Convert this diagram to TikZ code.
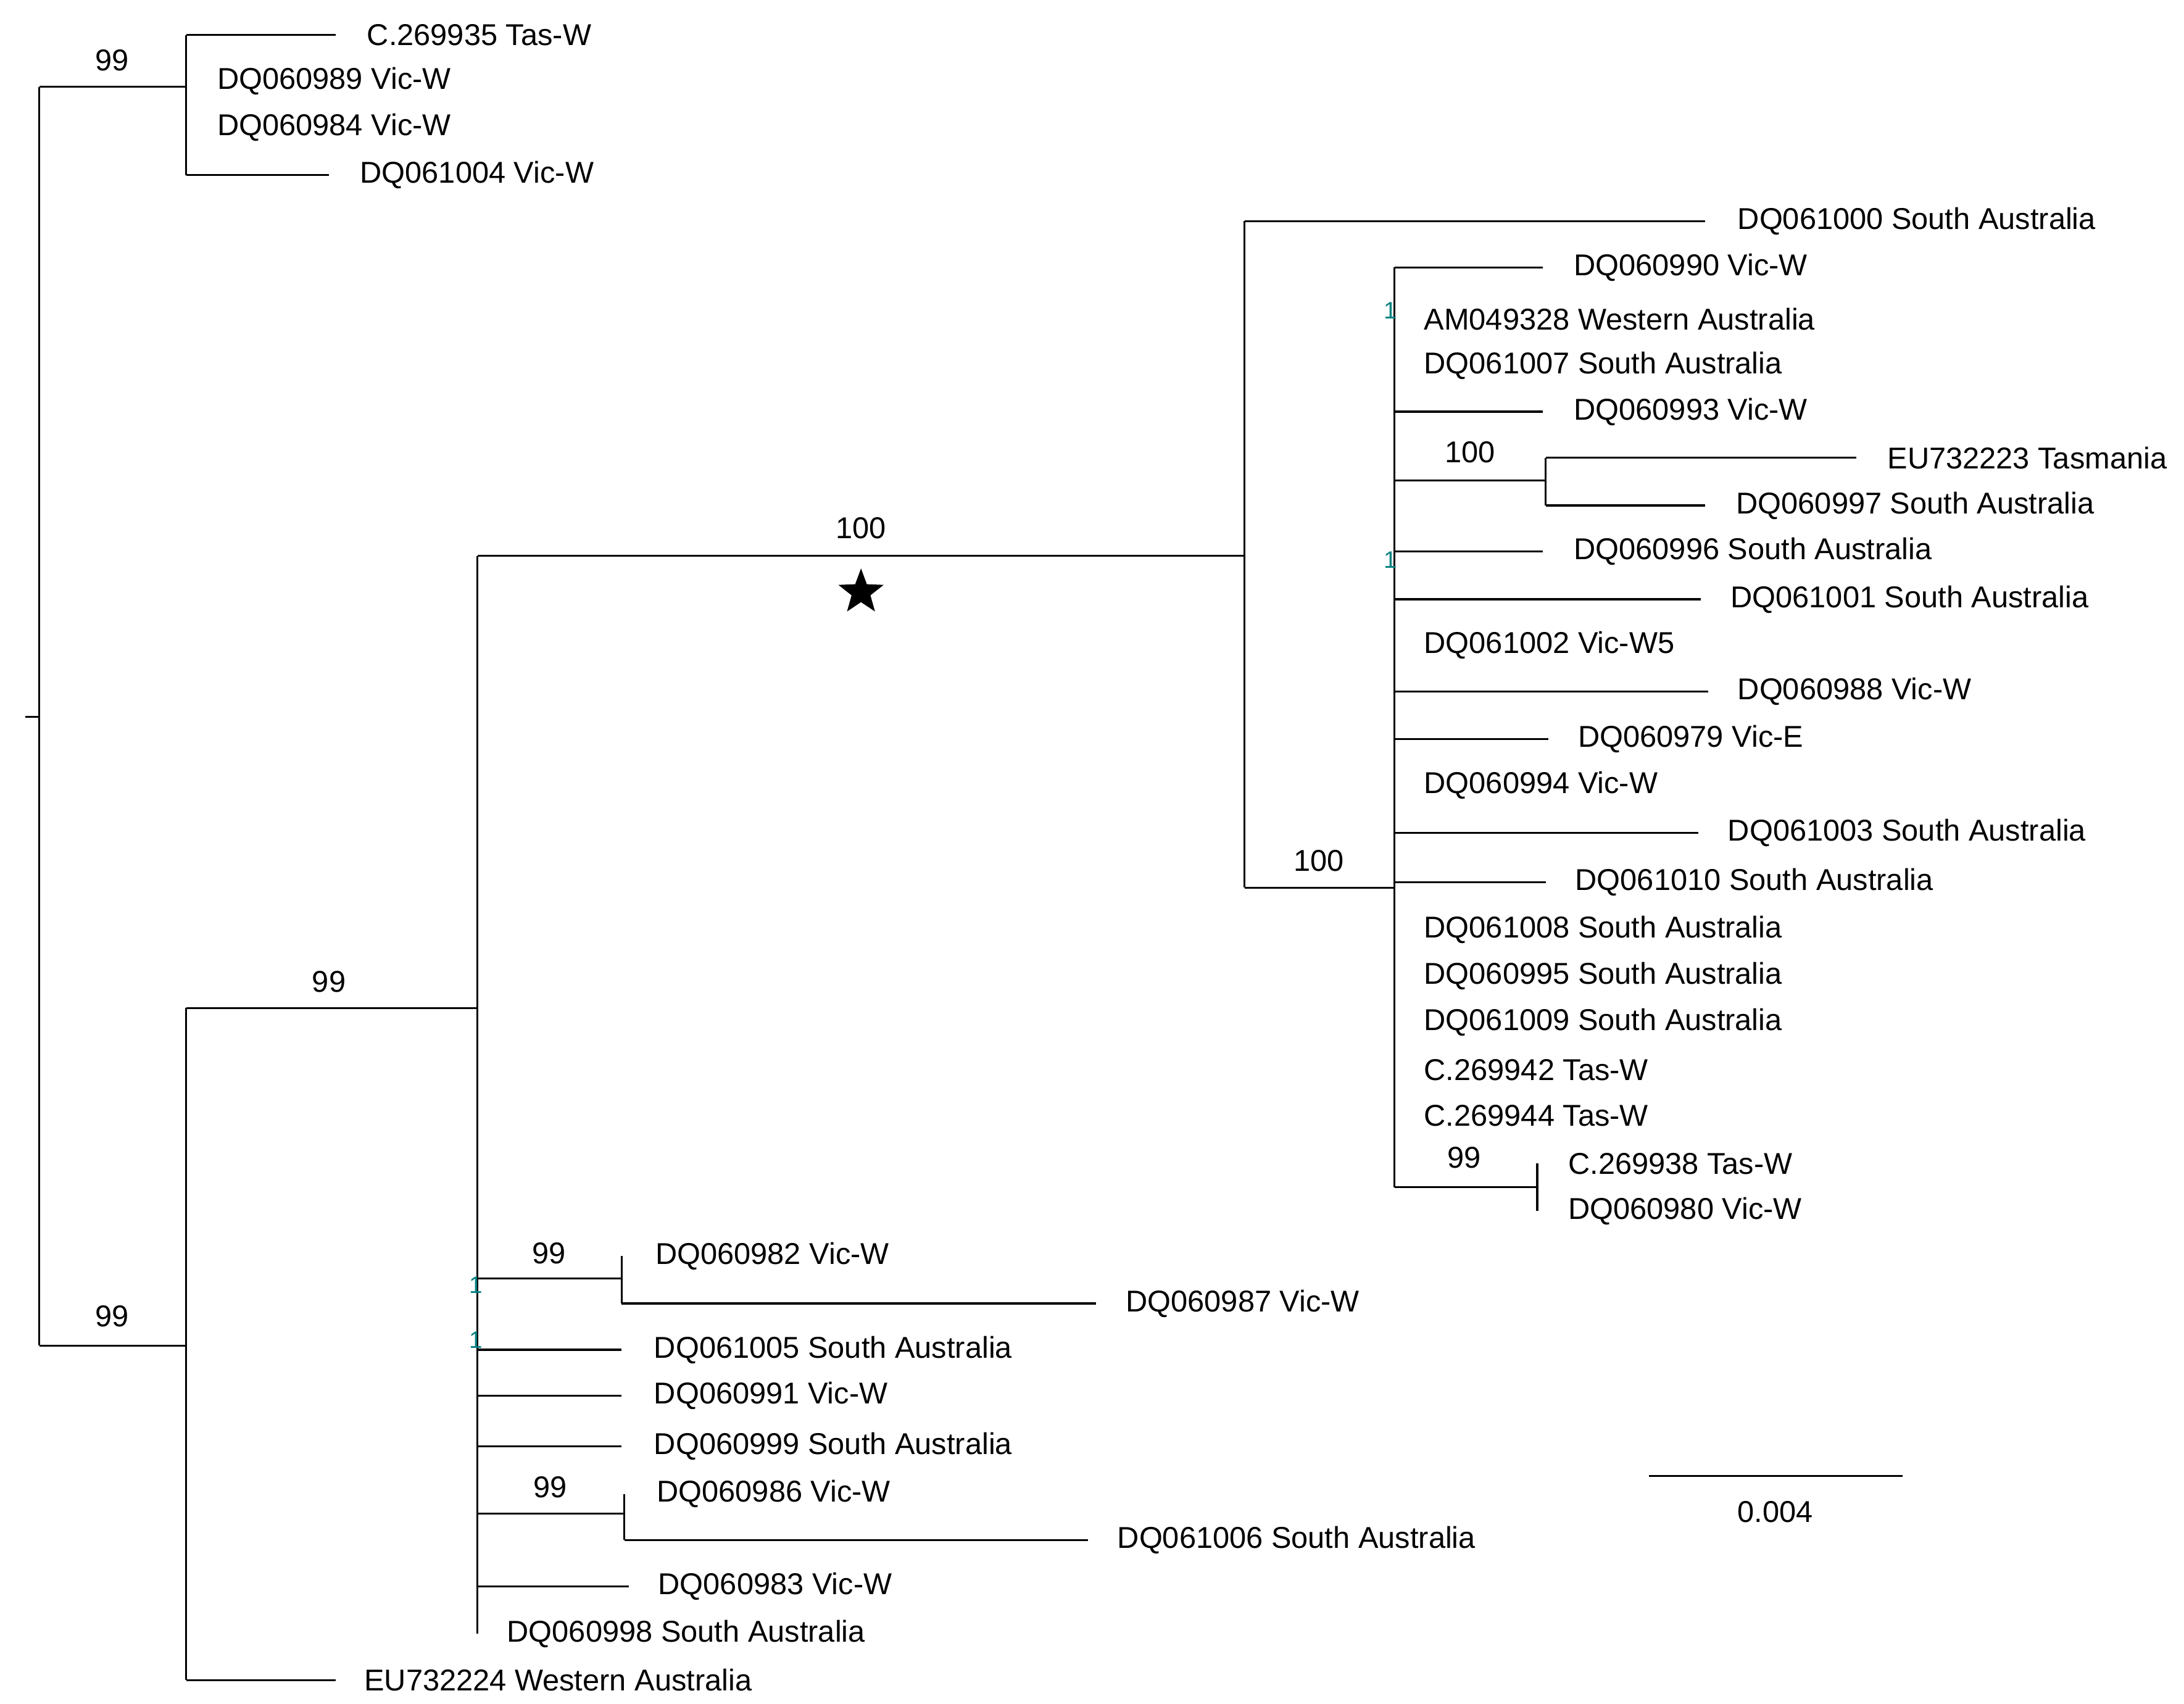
\documentclass[tikz,border=0pt]{standalone}
\usepackage{fontspec}
\setmainfont{Liberation Sans}
\usetikzlibrary{shapes.geometric}
\begin{document}
\begin{tikzpicture}[x=1pt,y=-1pt,
  br/.style={line width=1.4pt,black},
  lab/.style={anchor=west,inner sep=0pt,font=\fontsize{21.5}{23}\selectfont},
  bs/.style={inner sep=0pt,font=\fontsize{21.5}{23}\selectfont},
  one/.style={inner sep=0pt,text=teal,font=\fontsize{17}{19}\selectfont}]
\useasboundingbox (0,0) rectangle (1560,1217);
\newcommand{\lf}[6]{\coordinate (#1s) at (#2,#4); \node[lab] (#1) at (#5,#4) {#6}; \draw[br] (#1s) -- (#3,#4);}
\newcommand{\zl}[4]{\node[lab] (#1) at (#2,#3) {#4};}
% root
\coordinate (r) at (28,512);
\draw[br] (18,512) -- (r);
\draw[br] (28,62) -- (28,961);
% clade A
\draw[br] (28,62) -- (133,62); \node[bs] (a99) at (80,43) {99};
\draw[br] (133,25) -- (133,125);
\lf{l1}{133}{240}{25}{262}{C.269935 Tas-W}
\zl{l2}{155}{58}{DQ060989 Vic-W}
\zl{l3}{155}{91}{DQ060984 Vic-W}
\lf{l4}{133}{235}{125}{257}{DQ061004 Vic-W}
% clade B
\draw[br] (28,961) -- (133,961); \node[bs] (b99) at (80,940) {99};
\draw[br] (133,720) -- (133,1200);
\lf{l5}{133}{240}{1200}{260}{EU732224 Western Australia}
\draw[br] (133,720) -- (341,720); \node[bs] (c99) at (235,701) {99};
\draw[br] (341,397) -- (341,1167);
\draw[br] (341,397) -- (889,397); \node[bs] (d100) at (615,377) {100};
\node[star,star points=5,star point ratio=2.4,fill=black,minimum size=34pt,inner sep=0pt] (st) at (615,423) {};
\draw[br] (889,158) -- (889,634);
\lf{l6}{889}{1218}{158}{1241}{DQ061000 South Australia}
\draw[br] (889,634) -- (996,634); \node[bs] (e100) at (942,615) {100};
\draw[br] (996,191) -- (996,848);
\lf{m1}{996}{1102}{191}{1124}{DQ060990 Vic-W}
\node[one] (o1) at (993,222) {1};
\zl{m2}{1017}{228}{AM049328 Western Australia}
\zl{m3}{1017}{261}{DQ061007 South Australia}
\lf{m4}{996}{1102}{294}{1124}{DQ060993 Vic-W}
\draw[br] (996,343) -- (1104,343); \node[bs] (f100) at (1050,323) {100};
\draw[br] (1104,327) -- (1104,361);
\lf{m5}{1104}{1326}{327}{1348}{EU732223 Tasmania}
\lf{m6}{1104}{1218}{361}{1240}{DQ060997 South Australia}
\lf{m7}{996}{1102}{394}{1124}{DQ060996 South Australia}
\node[one] (o2) at (993,400) {1};
\lf{m8}{996}{1215}{428}{1236}{DQ061001 South Australia}
\zl{m9}{1017}{461}{DQ061002 Vic-W5}
\lf{m10}{996}{1220}{494}{1241}{DQ060988 Vic-W}
\lf{m11}{996}{1106}{528}{1127}{DQ060979 Vic-E}
\zl{m12}{1017}{561}{DQ060994 Vic-W}
\lf{m13}{996}{1213}{595}{1234}{DQ061003 South Australia}
\lf{m14}{996}{1104}{630}{1125}{DQ061010 South Australia}
\zl{m15}{1017}{664}{DQ061008 South Australia}
\zl{m16}{1017}{697}{DQ060995 South Australia}
\zl{m17}{1017}{730}{DQ061009 South Australia}
\zl{m18}{1017}{764}{C.269942 Tas-W}
\zl{m19}{1017}{797}{C.269944 Tas-W}
\draw[br] (996,848) -- (1098,848); \node[bs] (g99) at (1046,827) {99};
\draw[br] (1098,831) -- (1098,865);
\zl{m20}{1120}{831}{C.269938 Tas-W}
\zl{m21}{1120}{865}{DQ060980 Vic-W}
% lower clade of 341
\draw[br] (341,913) -- (444,913); \node[bs] (h99) at (392,895) {99};
\node[one] (o3) at (340,918) {1};
\draw[br] (444,897) -- (444,931);
\zl{n1}{468}{897}{DQ060982 Vic-W}
\lf{n2}{444}{783}{931}{804}{DQ060987 Vic-W}
\lf{n3}{341}{444}{964}{467}{DQ061005 South Australia}
\node[one] (o4) at (340,957) {1};
\lf{n4}{341}{444}{997}{467}{DQ060991 Vic-W}
\lf{n5}{341}{444}{1033}{467}{DQ060999 South Australia}
\draw[br] (341,1081) -- (446,1081); \node[bs] (i99) at (393,1062) {99};
\draw[br] (446,1067) -- (446,1100);
\zl{n6}{469}{1067}{DQ060986 Vic-W}
\lf{n7}{446}{777}{1100}{798}{DQ061006 South Australia}
\lf{n8}{341}{449}{1133}{470}{DQ060983 Vic-W}
\zl{n9}{362}{1167}{DQ060998 South Australia}
% scale bar
\coordinate (sb1) at (1178,1054); \coordinate (sb2) at (1359,1054);
\draw[br] (sb1) -- (sb2);
\node[bs] (sbl) at (1268,1080) {0.004};
\end{tikzpicture}
\end{document}
